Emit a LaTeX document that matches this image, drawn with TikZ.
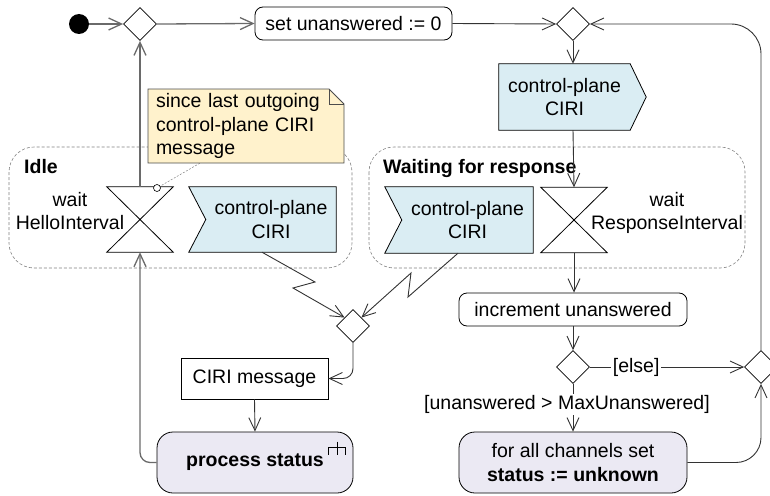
\documentclass[tikz,border=0pt]{standalone}
\usepackage{fontspec}
\setmainfont{Liberation Sans}
\usetikzlibrary{arrows.meta,shapes.geometric,backgrounds,calc}
\definecolor{sigblue}{HTML}{DAEDF3}
\definecolor{notey}{HTML}{FFF2CC}
\definecolor{actlav}{HTML}{EBE9F3}
\definecolor{edgedark}{HTML}{333333}
\definecolor{edgegray}{HTML}{6A6A6A}
\begin{document}
\begin{tikzpicture}[x=1pt,y=-1pt,
  font=\fontsize{19.5}{23.5}\selectfont,
  tipv/.tip={Straight Barb[length=13pt,width=12pt]},
  flow/.style={draw=edgedark, line width=0.9pt, -tipv},
  gflow/.style={draw=edgegray, line width=1.3pt, -tipv},
  dec/.style={diamond, draw=black, fill=white, minimum width=33pt, minimum height=33pt, inner sep=0pt, line width=0.8pt},
  rbox/.style={draw=black, rounded corners=8pt, line width=0.8pt, fill=white, inner sep=0pt, minimum height=33pt},
  actbox/.style={draw=black, rounded corners=16pt, line width=0.8pt, fill=actlav, inner sep=0pt, align=center},
  objbox/.style={draw=black, line width=0.8pt, fill=white, inner sep=0pt},
  sigtext/.style={inner sep=0pt, align=center, minimum height=66pt},
  hglass/.style={inner sep=0pt, minimum width=66pt, minimum height=65pt},
  sigshape/.style={draw=black, fill=sigblue, line width=0.8pt},
  grp/.style={draw=gray, dash pattern=on 3pt off 2pt, line width=0.6pt, rounded corners=25pt},
  glabel/.style={inner sep=0pt, font=\fontsize{19.5}{23.5}\selectfont\bfseries, anchor=west},
  elabel/.style={fill=white, inner sep=1.5pt}
]
\useasboundingbox (0,0) rectangle (770,495);

% groups
\draw[grp] (9,147) rectangle (352,268);
\draw[grp] (369,147) rectangle (745,268);
\node[glabel] (idlelbl) at (24,167) {Idle};
\node[glabel] (waitlbl) at (383,168) {Waiting for response};

% top row
\node[circle, fill=black, minimum size=20pt, inner sep=0pt] (init) at (79,24) {};
\node[dec] (d1) at (140,24) {};
\node[rbox, minimum width=197pt] (setb) at (353.5,23.5) {set unanswered := 0};
\node[dec] (d2) at (573,24) {};

% send signal
\node[sigtext, minimum width=131pt] (topsig) at (564.5,97) {control-plane\\CIRI};
\begin{scope}[on background layer]
\draw[sigshape] (topsig.north west) -- (topsig.north east) -- ($(topsig.east)+(16,0)$) -- (topsig.south east) -- (topsig.south west) -- cycle;
\end{scope}

% hourglasses
\node[hglass] (hgL) at (140,219.5) {};
\draw[line width=0.8pt] (hgL.north west) -- (hgL.north east) -- (hgL.south west) -- (hgL.south east) -- cycle;
\node[align=center, inner sep=0pt] (hgLt) at (70,211) {wait\\HelloInterval};
\node[hglass] (hgR) at (574,220) {};
\draw[line width=0.8pt] (hgR.north west) -- (hgR.north east) -- (hgR.south west) -- (hgR.south east) -- cycle;
\node[align=center, inner sep=0pt] (hgRt) at (667,213) {wait\\ResponseInterval};

% receive signals
\node[sigtext, minimum width=130pt, minimum height=65pt] (rcv1) at (271,219.5) {control-plane\\CIRI};
\node[sigtext, minimum width=131pt] (rcv2) at (467.5,220) {control-plane\\CIRI};
\begin{scope}[on background layer]
\draw[sigshape] ($(rcv1.north west)+(-17,0)$) -- (rcv1.north east) -- (rcv1.south east) -- ($(rcv1.south west)+(-17,0)$) -- (rcv1.west) -- cycle;
\draw[sigshape] ($(rcv2.north west)+(-17,0)$) -- (rcv2.north east) -- (rcv2.south east) -- ($(rcv2.south west)+(-17,0)$) -- (rcv2.west) -- cycle;
\end{scope}

% note
\draw[draw=black!70, fill=notey, line width=0.8pt] (148,89) -- (329,89) -- (344,104) -- (344,163) -- (148,163) -- cycle;
\draw[draw=black!70, line width=0.8pt] (329,89) -- (329,104) -- (344,104);
\node[inner sep=0pt, text width=180pt, align=left, minimum height=74pt] (note) at (246,126) {since last outgoing\\control-plane CIRI\\message};
\node[circle, draw=black, fill=white, minimum size=7pt, inner sep=0pt, line width=0.6pt] (pin) at (157,188) {};
\draw[draw=gray, dash pattern=on 2pt off 1.5pt, line width=0.5pt] ($(note.south west)+(44,0)$) -- (pin);

% lower nodes
\node[dec] (mrg) at (353,326) {};
\node[objbox, minimum width=147pt, minimum height=41pt] (ciri) at (254.5,378.5) {CIRI message};
\node[actbox, minimum width=196pt, minimum height=61pt, font=\fontsize{19.5}{23.5}\selectfont\bfseries] (ps) at (255,462.5) {process status};
\draw[line width=0.7pt] ($(ps.north east)+(-16,10)$) -- ($(ps.north east)+(-16,23)$)
  ($(ps.north east)+(-25,23)$) -- ($(ps.north east)+(-25,16)$) -- ($(ps.north east)+(-8,16)$) -- ($(ps.north east)+(-8,23)$);

\node[rbox, minimum width=228pt] (inc) at (573,309.5) {increment unanswered};
\node[dec] (dd) at (573,367) {};
\node[dec] (mR) at (761,367) {};
\node[actbox, minimum width=228pt, minimum height=61pt] (fa) at (573,462.5) {for all channels set\\\textbf{status := unknown}};

% edges
\draw[gflow] (init) -- (d1.west);
\draw[gflow] (d1.east) -- (setb.west);
\draw[flow] (setb.east) -- (d2.west);
\draw[flow] (d2.south) -- (d2.south |- topsig.north);
\draw[flow] (d2.south |- topsig.south) -- (hgR.north);
\draw[flow] (hgR.south) -- (inc.north -| hgR.south);
\draw[flow] (inc.south) -- (dd.north);
\draw[flow] (dd.east) -- node[elabel, pos=0.3] (elselbl) {[else]} (mR.west);
\draw[flow] (dd.south) -- node[elabel, pos=0.43, xshift=-6pt] (maxlbl) {[unanswered > MaxUnanswered]} (fa.north);
\draw[flow, rounded corners=25pt] (fa.east) -| (mR.south);
\draw[flow, rounded corners=30pt] (mR.north) |- (d2.east);
\draw[gflow] (hgL.north) -- (d1.south);
\draw[gflow, rounded corners=10pt] (ps.west) -| (hgL.south);
\draw[flow] (ciri.south) -- (ps.north);
\draw[flow, rounded corners=10pt] (mrg.south) |- (ciri.east);
\draw[flow] ($(rcv1.south)+(-9,0)$) -- (315,282) -- (293,288) -- (mrg.north west);
\draw[flow] ($(rcv2.south)+(-9.5,0)$) -- (408,297) -- (411,273) -- (mrg.north east);
\end{tikzpicture}
\end{document}
